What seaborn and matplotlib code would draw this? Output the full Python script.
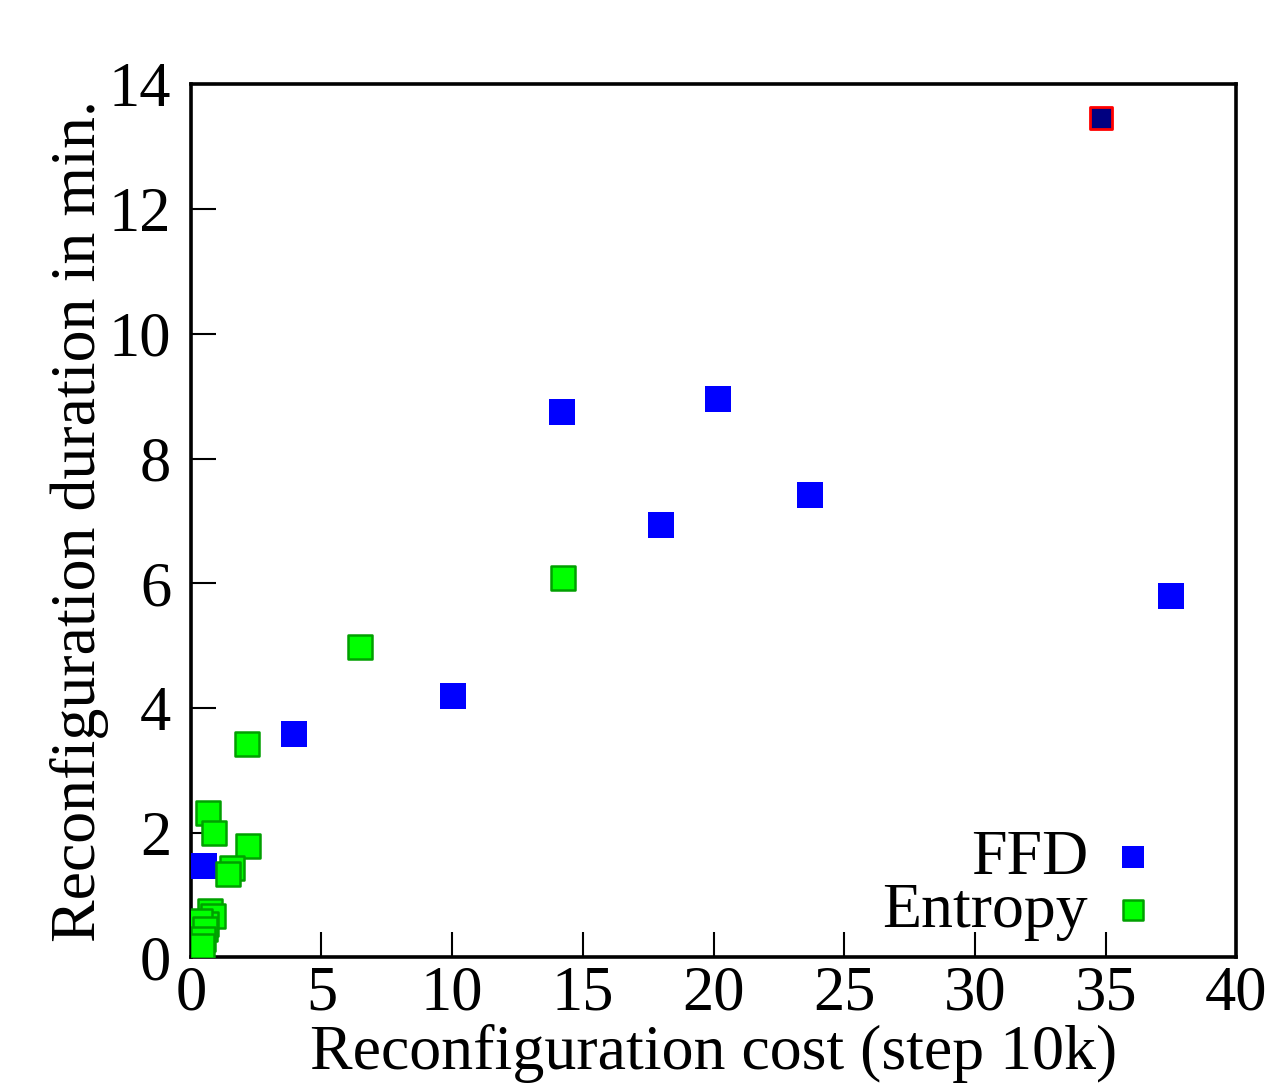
import matplotlib
matplotlib.use("Agg")
import matplotlib.pyplot as plt
import seaborn as sns
import pandas as pd

ffd_x = [0.50, 3.94, 10.03, 14.20, 17.99, 20.17, 23.69, 37.51]
ffd_y = [1.47, 3.58, 4.20, 8.74, 6.93, 8.96, 7.41, 5.79]

entropy_x = [6.47, 14.24, 2.14, 0.65, 0.88, 2.18, 1.56, 1.43, 0.73, 0.85, 0.60, 0.34, 0.54, 0.47, 0.41]
entropy_y = [4.97, 6.08, 3.42, 2.31, 2.00, 1.78, 1.44, 1.34, 0.75, 0.67, 0.54, 0.59, 0.46, 0.30, 0.19]

highlight_x = [34.83]
highlight_y = [13.47]

sns.set_theme(style="ticks")
plt.rcParams['font.family'] = ['Liberation Serif', 'DejaVu Serif']
plt.rcParams['text.color'] = 'black'
plt.rcParams['axes.labelcolor'] = 'black'

fig = plt.figure(figsize=(12.72, 10.83), dpi=100)
ax = fig.add_axes([0.150, 0.116, 0.822, 0.806])

df_ffd = pd.DataFrame({"x": ffd_x, "y": ffd_y})
df_ent = pd.DataFrame({"x": entropy_x, "y": entropy_y})
df_hl = pd.DataFrame({"x": highlight_x, "y": highlight_y})

sns.scatterplot(data=df_ffd, x="x", y="y", ax=ax, marker="s", s=330,
                color="#0000ff", edgecolor="#0000ff", linewidth=0, label="FFD", zorder=3)
sns.scatterplot(data=df_ent, x="x", y="y", ax=ax, marker="s", s=300,
                color="#00ff00", edgecolor="#00a000", linewidth=1.8, label="Entropy", zorder=3)
sns.scatterplot(data=df_hl, x="x", y="y", ax=ax, marker="s", s=250,
                color="#000080", edgecolor="#ff0000", linewidth=2, zorder=4, legend=False)

ax.set_xlim(0, 40)
ax.set_ylim(0, 14)
ax.set_xticks(range(0, 41, 5))
ax.set_yticks(range(0, 15, 2))
ax.tick_params(axis='both', direction='in', length=18, width=1.5, labelsize=45,
               colors='black', top=False, right=False)
ax.tick_params(axis='x', pad=6)
ax.tick_params(axis='y', pad=14)
for sp in ax.spines.values():
    sp.set_linewidth(2.6)
    sp.set_color('black')

ax.set_xlabel("Reconfiguration cost (step 10k)", fontsize=46, labelpad=0)
ax.set_ylabel("Reconfiguration duration in min.", fontsize=46, labelpad=0)

leg = ax.legend(loc="lower right", bbox_to_anchor=(0.962, -0.01), markerfirst=False,
                frameon=False, fontsize=46, handletextpad=0.1, labelspacing=-0.1,
                borderaxespad=0, handlelength=1.2, markerscale=0.85)

fig.savefig("out.png", dpi=100)
